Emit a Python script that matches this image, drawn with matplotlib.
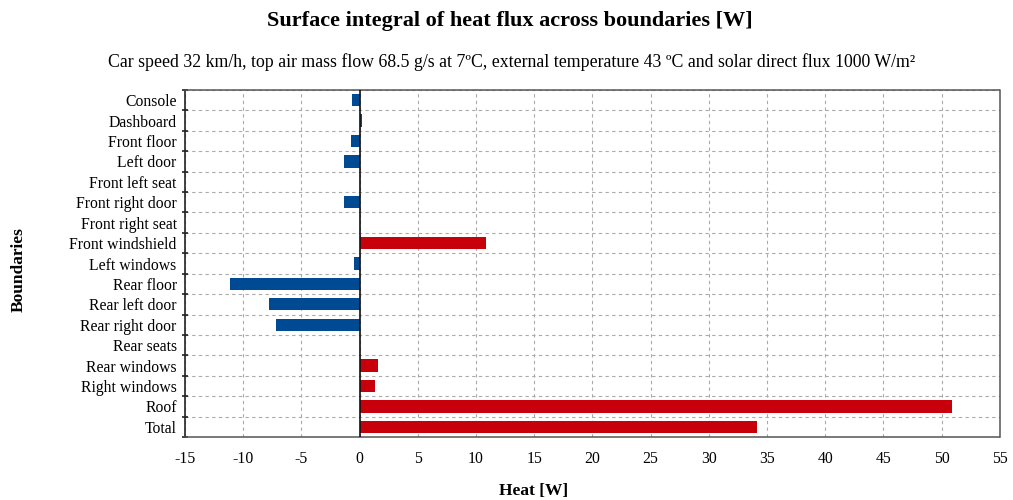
import numpy as np
import matplotlib
matplotlib.use("Agg")
import matplotlib.pyplot as plt
from matplotlib.ticker import MultipleLocator, FixedLocator

plt.rcParams["font.family"] = ["Liberation Serif", "DejaVu Serif"]
plt.rcParams["axes.unicode_minus"] = False

boundaries = ["Console", "Dashboard", "Front floor", "Left door", "Front left seat",
              "Front right door", "Front right seat", "Front windshield", "Left windows",
              "Rear floor", "Rear left door", "Rear right door", "Rear seats",
              "Rear windows", "Right windows", "Roof", "Total"]
heat = [-0.63, 0.2, -0.7, -1.3, 0.0, -1.35, 0.0, 10.9, -0.45,
        -11.1, -7.8, -7.15, 0.0, 1.55, 1.35, 50.9, 34.1]

BLUE = "#004a94"
RED = "#c8000b"

fig = plt.figure(figsize=(10.13, 5.0), dpi=100)
ax = fig.add_axes([0.1826, 0.126, 0.8044, 0.694])

ypos = np.arange(len(boundaries))
# heat gains in red, losses (and negligible values) in blue
colors = [RED if v > 1 else BLUE for v in heat]
ax.barh(ypos, heat, height=0.6, color=colors, zorder=3)

ax.set_xlim(-15, 55)
ax.set_ylim(len(boundaries) - 0.5, -0.5)
ax.xaxis.set_major_locator(MultipleLocator(5))
ax.set_yticks(ypos)
ax.set_yticklabels(boundaries)
ax.yaxis.set_minor_locator(FixedLocator(np.arange(len(boundaries) + 1) - 0.5))

ax.tick_params(axis="y", which="major", length=0, pad=6, labelsize=11.3)
ax.tick_params(axis="y", which="minor", length=5, width=1.2, direction="inout", color="#222222")
ax.tick_params(axis="x", which="major", length=0, pad=10, labelsize=11.3)

ax.grid(True, axis="x", which="major", linestyle=(0, (3, 3)), color="#aaaaaa", linewidth=0.8, zorder=0)
ax.grid(True, axis="y", which="minor", linestyle=(0, (3, 3)), color="#aaaaaa", linewidth=0.8, zorder=0)
ax.axvline(0, color="#111111", linewidth=1.2, zorder=4)

for side in ["top", "right", "bottom"]:
    ax.spines[side].set_color("#555555")
    ax.spines[side].set_linestyle((0, (2, 1)))
    ax.spines[side].set_linewidth(1.1)
ax.spines["left"].set_color("#222222")
ax.spines["left"].set_linewidth(1.2)

fig.text(0.503, 0.958, "Surface integral of heat flux across boundaries [W]",
         ha="center", va="center", fontsize=16, fontweight="bold")
fig.text(0.505, 0.876,
         "Car speed 32 km/h, top air mass flow 68.5 g/s at 7ºC, external temperature 43 ºC and solar direct flux 1000 W/m²",
         ha="center", va="center", fontsize=12.8)
fig.text(0.527, 0.018, "Heat [W]", ha="center", va="center", fontsize=12.5, fontweight="bold")
fig.text(0.018, 0.46, "Boundaries", ha="center", va="center", rotation=90,
         fontsize=12.5, fontweight="bold")

fig.savefig("out.png", dpi=100)
